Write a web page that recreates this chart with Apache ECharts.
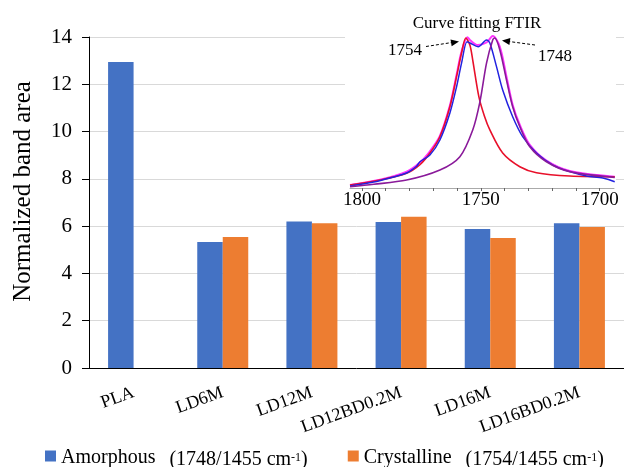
<!DOCTYPE html>
<html>
<head>
<meta charset="utf-8">
<script src="https://cdn.jsdelivr.net/npm/echarts@6/dist/echarts.min.js"></script>
<style>
  html, body { margin: 0; padding: 0; background: #fff; }
  #chart { width: 624px; height: 467px; }
</style>
</head>
<body>
<div id="chart"></div>
<script>
// bar data
const categories = ['PLA', 'LD6M', 'LD12M', 'LD12BD0.2M', 'LD16M', 'LD16BD0.2M'];
const amorphous = [12.94, 5.33, 6.2, 6.18, 5.88, 6.12];
const crystalline = [null, 5.54, 6.12, 6.4, 5.5, 5.96];
const yTicks = [0, 2, 4, 6, 8, 10, 12, 14];

// inset FTIR curves: [wavenumber, normalized absorbance]
const measured = [
  [1805, 0.013], [1795, 0.04], [1788.2, 0.067], [1781.2, 0.1], [1777, 0.145], [1775.6, 0.175],
  [1771.4, 0.22], [1767.2, 0.32], [1763, 0.5], [1760.2, 0.675], [1758.1, 0.833],
  [1755.8, 0.975], [1754.6, 0.967], [1751.1, 0.942], [1747.6, 0.987], [1746.2, 0.967],
  [1743.4, 0.809], [1740.8, 0.653], [1736.6, 0.475], [1732.4, 0.342], [1726.6, 0.233],
  [1719.7, 0.153], [1712.6, 0.109], [1705.6, 0.08], [1698.7, 0.067], [1693.7, 0.042]
];
const band1754 = [
  [1805, 0.02], [1792.4, 0.053], [1781.2, 0.098], [1775.6, 0.155], [1771.4, 0.233],
  [1767.2, 0.342], [1763, 0.542], [1760.2, 0.742], [1758.1, 0.9], [1756.3, 1.0],
  [1754.6, 0.953], [1753.4, 0.853], [1750.8, 0.607], [1748.5, 0.48], [1746.2, 0.387],
  [1740.8, 0.233], [1733.6, 0.142], [1726.6, 0.102], [1712.6, 0.08], [1693.7, 0.075]
];
const band1748 = [
  [1805, 0.009], [1795, 0.025], [1781.2, 0.053], [1767.2, 0.12], [1758.8, 0.209],
  [1753.4, 0.387], [1750.4, 0.573], [1747.6, 0.833], [1745, 0.987], [1744.1, 1.0],
  [1742, 0.92], [1739.2, 0.72], [1736.6, 0.542], [1733.6, 0.409], [1729.4, 0.275],
  [1722.4, 0.175], [1712.6, 0.109], [1693.7, 0.071]
];
const fitSum = [
  [1805, 0.02], [1792.4, 0.055], [1781.2, 0.109], [1775.6, 0.17], [1771.4, 0.245],
  [1767.2, 0.347], [1763, 0.55], [1760.2, 0.753], [1758.1, 0.91], [1755.6, 1.005],
  [1754.6, 0.987], [1751.3, 0.953], [1747.6, 0.97], [1745, 1.013], [1742, 0.942],
  [1739.2, 0.742], [1736.6, 0.553], [1733.6, 0.42], [1729.4, 0.287], [1722.4, 0.182],
  [1712.6, 0.113], [1693.7, 0.075]
];
const insetLabels = [1700, 1750, 1800];
const insetTicks = [1700, 1710, 1720, 1730, 1740, 1750, 1760, 1770, 1780, 1790, 1800];

const serif = "'Times New Roman', 'Liberation Serif', serif";

let myChart = echarts.init(document.getElementById('chart'));

myChart.setOption({
  animation: false,
  textStyle: { fontFamily: serif },
  grid: [
    { left: 89, top: 37, width: 544, height: 331 },
    { left: 350, top: 23, width: 264, height: 165 }
  ],
  legend: {
    left: 40,
    top: 437,
    icon: 'rect',
    itemWidth: 11,
    itemHeight: 11,
    itemGap: 40,
    data: ['Amorphous', 'Crystalline'],
    formatter: function (name) {
      let code = name === 'Amorphous' ? '1748' : '1754';
      return '{a|' + name + '}{p|(' + code + '/1455 cm}{s|-1}{b|)}';
    },
    textStyle: {
      rich: {
        a: { fontSize: 20, fontFamily: serif, color: '#000', lineHeight: 22, verticalAlign: 'top', padding: [3, 0, 0, 0] },
        p: { fontSize: 20, fontFamily: serif, color: '#000', lineHeight: 22, padding: [8, 0, 0, 14] },
        b: { fontSize: 20, fontFamily: serif, color: '#000', lineHeight: 22, padding: [8, 0, 0, 0] },
        s: { fontSize: 12, fontFamily: serif, color: '#000', lineHeight: 12, verticalAlign: 'top', padding: [7, 0, 0, 0] }
      }
    }
  },
  xAxis: [
    {
      gridIndex: 0,
      type: 'category',
      data: categories,
      axisLine: { lineStyle: { color: '#000', width: 1 } },
      axisTick: { alignWithLabel: true, length: 5, lineStyle: { color: '#000' } },
      axisLabel: { rotate: 20, fontSize: 18, color: '#000', margin: 24, fontFamily: serif }
    },
    {
      gridIndex: 1,
      type: 'value',
      min: 1694,
      max: 1805,
      inverse: true,
      z: 5,
      axisLine: { onZero: false, lineStyle: { color: '#aaa', width: 1 } },
      axisTick: { customValues: insetTicks, length: 3, lineStyle: { color: '#666' } },
      axisLabel: {
        customValues: insetLabels, fontSize: 19, color: '#000', margin: 3, fontFamily: serif,
        formatter: function (v) { return String(v); }
      },
      splitLine: { show: false }
    }
  ],
  yAxis: [
    {
      gridIndex: 0,
      type: 'value',
      min: 0,
      max: 14,
      interval: 2,
      name: 'Normalized band area',
      nameLocation: 'middle',
      nameGap: 53,
      nameTextStyle: { fontSize: 25, color: '#000', fontFamily: serif, padding: [0, 0, 0, 22] },
      axisLine: { show: true, lineStyle: { color: '#000', width: 1 } },
      axisTick: { show: true, length: 7, lineStyle: { color: '#000' } },
      axisLabel: { fontSize: 21, color: '#000', margin: 17, fontFamily: serif },
      splitLine: { lineStyle: { color: '#d9d9d9', width: 1 } }
    },
    {
      gridIndex: 1,
      type: 'value',
      min: 0,
      max: 1.1,
      show: false,
      splitLine: { show: false }
    }
  ],
  graphic: [
    { type: 'rect', z: 1, shape: { x: 345, y: 0, width: 271, height: 212 }, style: { fill: '#fff' } },
    { type: 'text', z: 6, x: 477, y: 24, style: { text: 'Curve fitting FTIR', font: '17px ' + serif, fill: '#000', align: 'center', verticalAlign: 'middle' } },
    { type: 'text', z: 6, x: 405, y: 51, style: { text: '1754', font: '17px ' + serif, fill: '#000', align: 'center', verticalAlign: 'middle' } },
    { type: 'text', z: 6, x: 555, y: 57, style: { text: '1748', font: '17px ' + serif, fill: '#000', align: 'center', verticalAlign: 'middle' } },
    { type: 'line', z: 6, shape: { x1: 426, y1: 46.5, x2: 452, y2: 42.5 }, style: { stroke: '#000', lineWidth: 1, lineDash: [3, 2] } },
    { type: 'polygon', z: 6, shape: { points: [[459, 41.5], [451.7, 46.3], [450.5, 39.4]] }, style: { fill: '#000' } },
    { type: 'line', z: 6, shape: { x1: 535, y1: 45, x2: 509, y2: 41.5 }, style: { stroke: '#000', lineWidth: 1, lineDash: [3, 2] } },
    { type: 'polygon', z: 6, shape: { points: [[502, 40.5], [510.4, 38.1], [509.4, 45.1]] }, style: { fill: '#000' } }
  ],
  series: [
    {
      name: 'Amorphous',
      type: 'bar',
      xAxisIndex: 0,
      yAxisIndex: 0,
      barWidth: 25.5,
      barGap: '0%',
      itemStyle: { color: '#4472C4' },
      data: amorphous
    },
    {
      name: 'Crystalline',
      type: 'bar',
      xAxisIndex: 0,
      yAxisIndex: 0,
      barWidth: 25.5,
      barGap: '0%',
      itemStyle: { color: '#ED7D31' },
      data: crystalline
    },
    {
      name: 'fit', type: 'line', xAxisIndex: 1, yAxisIndex: 1, z: 5, smooth: 0.3,
      showSymbol: false, lineStyle: { color: '#ff33ff', width: 2 }, data: fitSum
    },
    {
      name: '1754', type: 'line', xAxisIndex: 1, yAxisIndex: 1, z: 5, smooth: 0.3,
      showSymbol: false, lineStyle: { color: '#e8102a', width: 1.6 }, data: band1754
    },
    {
      name: 'measured', type: 'line', xAxisIndex: 1, yAxisIndex: 1, z: 5, smooth: 0.3,
      showSymbol: false, lineStyle: { color: '#2222e0', width: 1.5 }, data: measured
    },
    {
      name: '1748', type: 'line', xAxisIndex: 1, yAxisIndex: 1, z: 5, smooth: 0.3,
      showSymbol: false, lineStyle: { color: '#8a1a9a', width: 1.6 }, data: band1748
    }
  ]
});
</script>
</body>
</html>
